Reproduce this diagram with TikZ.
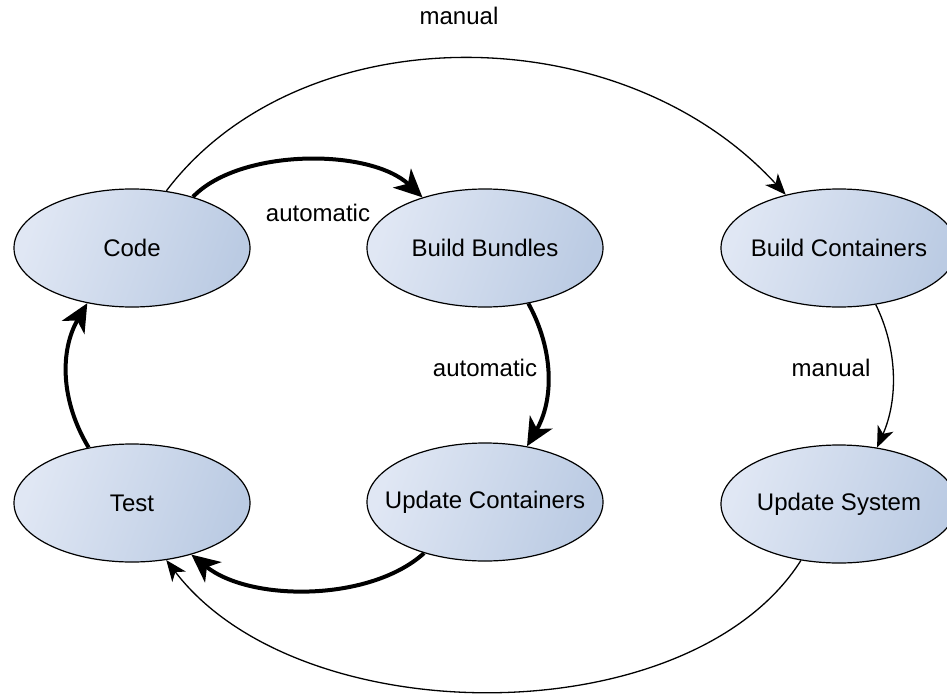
\documentclass[tikz,border=0pt]{standalone}
\usepackage{fontspec}
\setmainfont{Liberation Sans}
\usetikzlibrary{shapes.geometric,arrows.meta}
\definecolor{elLight}{HTML}{E0E7F4}
\definecolor{elDark}{HTML}{BBCBE3}
\newcommand{\zw}[1]{\makebox[0pt]{#1}}
\begin{document}
\begin{tikzpicture}[x=1pt,y=-1pt,
  state/.style={ellipse,draw=black,line width=1.2pt,shading=axis,left color=elLight,right color=elDark,shading angle=70,
    minimum width=236pt,minimum height=118pt,inner sep=0pt,
    font=\fontsize{24}{28}\selectfont},
  lbl/.style={font=\fontsize{24}{28}\selectfont,inner sep=0pt},
  thick arrow/.style={line width=4pt,-{Stealth[length=28pt,width=26pt,inset=8pt]}},
  thin arrow/.style={line width=1.3pt,-{Stealth[length=21pt,width=17pt,inset=6pt]}}]
\useasboundingbox (0,0) rectangle (947,693);
\node[state] (code) at (132,248) {\zw{Code}};
\node[state] (bb) at (485,248) {\zw{Build Bundles}};
\node[state] (bc) at (839,248) {\zw{Build Containers}};
\node[state] (test) at (132,503) {\zw{Test}};
\node[state] (uc) at (485,502) {\zw{Update Containers}};
\node[state] (us) at (839,504) {\zw{Update System}};
% thick automatic cycle
\draw[thick arrow] (code.40) .. controls (240,148) and (370,148) .. (bb.141);
\draw[thick arrow] (bb.308) .. controls (554,350) and (554,400) .. (uc.53);
\draw[thick arrow] (uc.220) .. controls (370,602) and (250,602) .. (test.319);
\draw[thick arrow] (test.128) .. controls (60,400) and (60,350) .. (code.231);
% thin manual path
\draw[thin arrow] (code.59) .. controls (300,14) and (620,14) .. (bc.135);
\draw[thin arrow] (bc.303) .. controls (898,350) and (898,400) .. (us.56);
\draw[thin arrow] (us.236) .. controls (690,735) and (300,735) .. (test.301);
% labels
\node[lbl] (l1) at (318,213) {automatic};
\node[lbl] (l2) at (485,368) {automatic};
\node[lbl] (l3) at (459,16) {manual};
\node[lbl] (l4) at (831,368) {manual};
\end{tikzpicture}
\end{document}
